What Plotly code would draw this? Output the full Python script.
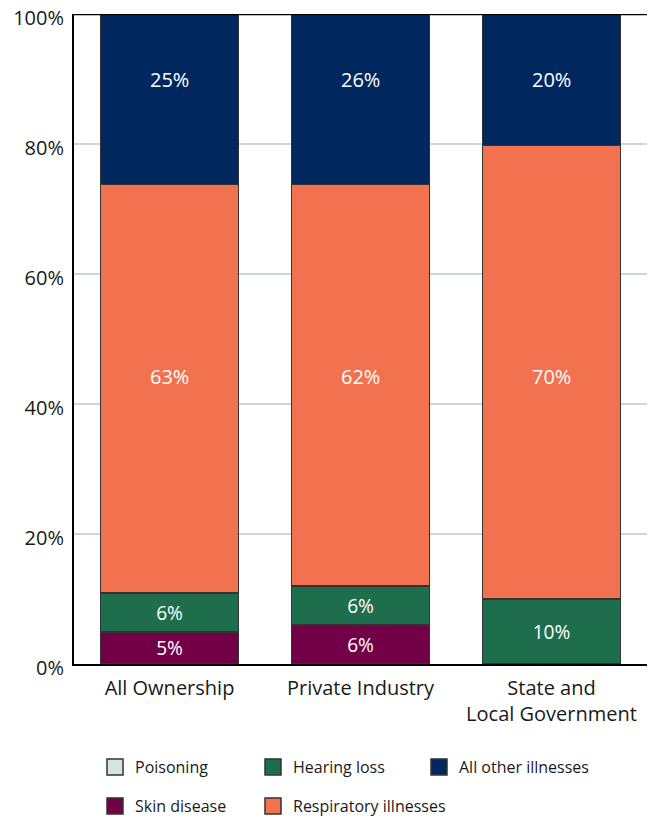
import plotly.graph_objects as go

categories = ["All Ownership", "Private Industry", "State and<br>Local Government"]

# segment sizes (percent of illnesses), bottom to top
poisoning = [0, 0, 0]
skin_disease = [4.9, 6.0, 0]
hearing_loss = [6.0, 6.0, 10.0]
respiratory = [62.9, 61.8, 69.8]
all_other = [26.2, 26.2, 20.2]

# printed labels
skin_labels = ["5%", "6%", ""]
hearing_labels = ["6%", "6%", "10%"]
resp_labels = ["63%", "62%", "70%"]
other_labels = ["25%", "26%", "20%"]

y_ticks = [0, 20, 40, 60, 80, 100]
y_tick_text = [f"{v}%" for v in y_ticks]

# the original places these two label rows at fixed heights
RESP_LABEL_LEVEL = 44.2
OTHER_LABEL_LEVEL = 90

FONT = "Open Sans"
colors = {
    "Poisoning": "#D4E4DE",
    "Skin disease": "#720046",
    "Hearing loss": "#1E6E4D",
    "Respiratory illnesses": "#F2714E",
    "All other illnesses": "#00285F",
}

series = [
    ("Poisoning", poisoning, None),
    ("Skin disease", skin_disease, skin_labels),
    ("Hearing loss", hearing_loss, hearing_labels),
    ("Respiratory illnesses", respiratory, None),
    ("All other illnesses", all_other, None),
]

W, H = 654, 812

fig = go.Figure()
for name, vals, labels in series:
    fig.add_trace(go.Bar(
        x=categories, y=vals, name=name,
        marker=dict(color=colors[name], line=dict(color="#333333", width=1.5)),
        text=labels if labels else None,
        textposition="inside" if labels else "none",
        insidetextanchor="middle",
        textfont=dict(color="white", size=20, family=FONT),
        textangle=0,
        width=0.72,
        showlegend=False,
        hoverinfo="name+y",
    ))

for labels, level in [(resp_labels, RESP_LABEL_LEVEL), (other_labels, OTHER_LABEL_LEVEL)]:
    for cat, lab in zip(categories, labels):
        fig.add_annotation(x=cat, y=level, text=lab, showarrow=False,
                           xanchor="center", yanchor="middle",
                           font=dict(color="white", size=20, family=FONT))

# legend layout: one small legend per entry, (name, left px, center y px)
legend_entries = [
    ("Poisoning", 87, 759),
    ("Hearing loss", 245, 759),
    ("All other illnesses", 411, 759),
    ("Skin disease", 87, 798),
    ("Respiratory illnesses", 245, 798),
]
legend_layouts = {}
for i, (name, lx, ly) in enumerate(legend_entries):
    lg = "legend" if i == 0 else f"legend{i + 1}"
    fig.add_trace(go.Scatter(
        x=[categories[0]], y=[None], mode="markers", name=name, legend=lg,
        marker=dict(symbol="square", size=16, color=colors[name],
                    line=dict(color="#333333", width=1.5)),
        showlegend=True, hoverinfo="skip",
    ))
    legend_layouts[lg] = dict(
        orientation="h",
        xref="container", yref="container",
        x=lx / W, xanchor="left", y=1 - ly / H, yanchor="middle",
        font=dict(size=16, family=FONT, color="#1a1a1a"),
        bgcolor="rgba(0,0,0,0)",
    )

fig.update_layout(
    barmode="stack",
    width=W, height=H,
    margin=dict(l=66, r=15, t=6, b=H - 656),
    plot_bgcolor="white", paper_bgcolor="white",
    font=dict(family=FONT, size=20, color="#1a1a1a"),
    uniformtext=dict(minsize=10, mode="show"),
    xaxis=dict(
        type="category",
        range=[-0.5, 2.5], showline=True, linecolor="black", linewidth=2,
        ticks="", tickfont=dict(size=20), automargin=False,
        ticklabelstandoff=5,
    ),
    yaxis=dict(
        type="linear",
        range=[0, 100], tickvals=y_ticks, ticktext=y_tick_text,
        showline=True, linecolor="black", linewidth=2,
        showgrid=True, gridcolor="#CDD6E0", gridwidth=1.5,
        ticks="", ticklabelstandoff=4, ticklabelshift=4,
        ticklabeloverflow="allow",
        tickfont=dict(size=20),
        zeroline=False, automargin=False,
    ),
    **legend_layouts,
)
fig.add_shape(type="line", xref="paper", yref="y", x0=0, x1=1, y0=100, y1=100,
              line=dict(color="black", width=2.5), layer="above")

fig.write_html("out.html")
